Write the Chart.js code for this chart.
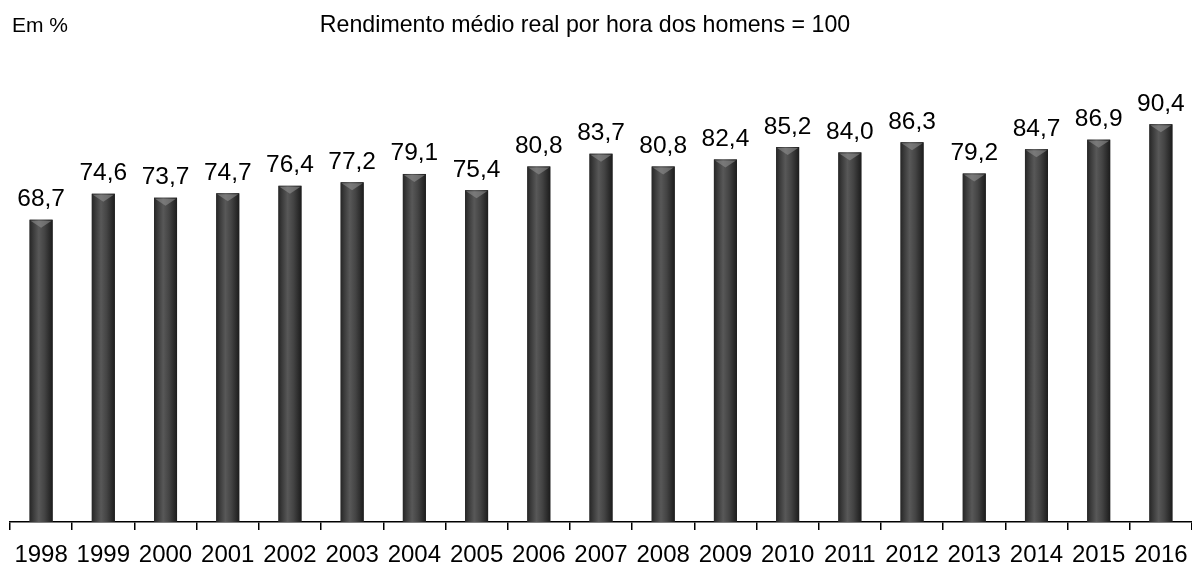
<!DOCTYPE html>
<html>
<head>
<meta charset="utf-8">
<script src="https://cdn.jsdelivr.net/npm/chart.js@4"></script>
<style>
  html, body { margin: 0; padding: 0; background: #fff; }
  #wrap { width: 1192px; height: 565px; position: relative; }
</style>
</head>
<body>
<div id="wrap"><canvas id="rendChart"></canvas></div>
<script>
// valores do grafico
const years = ["1998", "1999", "2000", "2001", "2002", "2003", "2004", "2005", "2006", "2007",
  "2008", "2009", "2010", "2011", "2012", "2013", "2014", "2015", "2016"];
const ratio = [68.7, 74.6, 73.7, 74.7, 76.4, 77.2, 79.1, 75.4, 80.8, 83.7,
  80.8, 82.4, 85.2, 84.0, 86.3, 79.2, 84.7, 86.9, 90.4];
const unitLabel = "Em %";
const titleText = "Rendimento médio real por hora dos homens = 100";

const fontFam = "'Liberation Sans', Arial, sans-serif";

// cylinder shading + value labels + header texts
const barDeco = {
  id: "barDeco",
  afterDatasetsDraw(chart) {
    const ctx = chart.ctx;
    const meta = chart.getDatasetMeta(0);
    meta.data.forEach((bar, i) => {
      const w = bar.width;
      const left = bar.x - w / 2;
      const h = bar.base - bar.y;
      let g = ctx.createLinearGradient(left, 0, left + w, 0);
      g.addColorStop(0, "#262626");
      g.addColorStop(0.15, "#3a3a3a");
      g.addColorStop(0.4, "#585858");
      g.addColorStop(0.65, "#444444");
      g.addColorStop(1, "#1c1c1c");
      ctx.save();
      ctx.fillStyle = g;
      ctx.fillRect(left, bar.y, w, h);
      // bevel on top
      ctx.fillStyle = "rgba(150,150,150,0.55)";
      ctx.beginPath();
      ctx.moveTo(left + 1, bar.y + 1);
      ctx.lineTo(left + w - 1, bar.y + 1);
      ctx.lineTo(bar.x, bar.y + 8);
      ctx.closePath();
      ctx.fill();
      ctx.restore();

      ctx.save();
      ctx.font = "24.5px " + fontFam;
      ctx.fillStyle = "#000";
      ctx.textAlign = "center";
      ctx.textBaseline = "bottom";
      ctx.fillText(ratio[i].toFixed(1).replace(".", ","), bar.x, bar.y - 8);
      ctx.restore();
    });

    ctx.save();
    ctx.fillStyle = "#000";
    ctx.textBaseline = "alphabetic";
    ctx.textAlign = "left";
    ctx.font = "21px " + fontFam;
    ctx.fillText(unitLabel, 12, 32);
    ctx.textAlign = "center";
    ctx.font = "23.2px " + fontFam;
    ctx.fillText(titleText, 585, 32);
    ctx.restore();
  }
};

new Chart(document.getElementById("rendChart").getContext("2d"), {
  type: "bar",
  data: {
    labels: years,
    datasets: [{
      label: "Rendimento",
      data: ratio,
      backgroundColor: "#333333",
      borderWidth: 0,
      barPercentage: 0.37,
      categoryPercentage: 1
    }]
  },
  options: {
    responsive: true,
    maintainAspectRatio: false,
    animation: false,
    layout: { padding: { top: 82, left: 10, right: 0, bottom: -15 } },
    plugins: {
      legend: { display: false },
      tooltip: { enabled: false },
      title: { display: false }
    },
    scales: {
      y: { display: false, min: 0, max: 100 },
      x: {
        offset: true,
        border: { display: true, color: "#000", width: 1.5 },
        grid: {
          offset: true,
          drawOnChartArea: false,
          drawTicks: true,
          tickLength: 8,
          color: "#000",
          lineWidth: 1.5
        },
        ticks: {
          color: "#000",
          padding: 2,
          maxRotation: 0,
          autoSkip: false,
          font: { family: fontFam, size: 24, lineHeight: "46px" }
        }
      }
    }
  },
  plugins: [barDeco]
});
</script>
</body>
</html>
